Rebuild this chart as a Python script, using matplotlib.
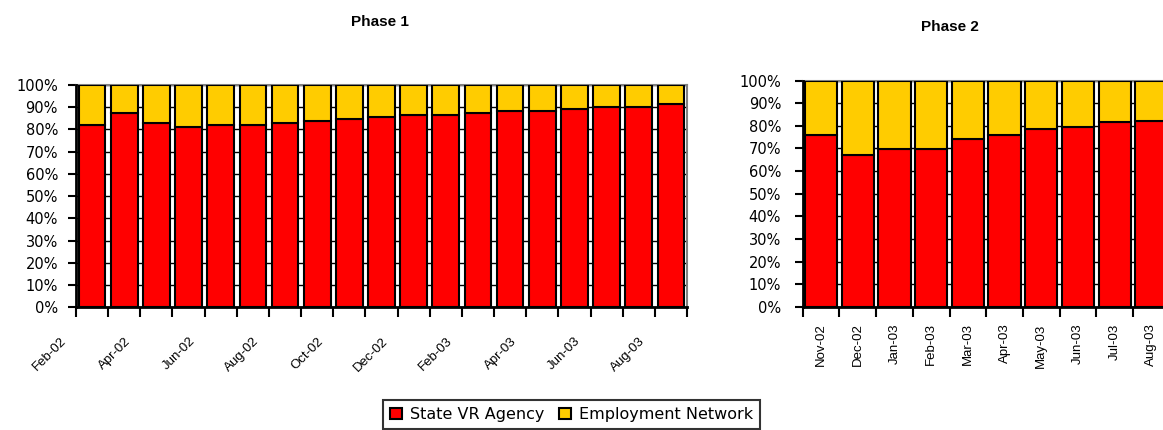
import matplotlib
matplotlib.use('Agg')
import matplotlib.pyplot as plt
import matplotlib.transforms as mtransforms
from matplotlib.patches import Patch
import numpy as np

plt.rcParams['font.family'] = ['DejaVu Sans']

# ---- data ----
phase1_months = ['Feb-02', 'Mar-02', 'Apr-02', 'May-02', 'Jun-02', 'Jul-02', 'Aug-02',
                 'Sep-02', 'Oct-02', 'Nov-02', 'Dec-02', 'Jan-03', 'Feb-03', 'Mar-03',
                 'Apr-03', 'May-03', 'Jun-03', 'Jul-03', 'Aug-03']
phase1_state_vr = [82.0, 87.4, 83.0, 81.1, 82.0, 82.0, 83.0, 83.9, 84.8, 85.6,
                   86.6, 86.6, 87.5, 88.4, 88.4, 89.3, 90.2, 90.2, 91.3]
phase1_en = [18.0, 12.6, 17.0, 18.9, 18.0, 18.0, 17.0, 16.1, 15.2, 14.4,
             13.4, 13.4, 12.5, 11.6, 11.6, 10.7, 9.8, 9.8, 8.7]

phase2_months = ['Nov-02', 'Dec-02', 'Jan-03', 'Feb-03', 'Mar-03', 'Apr-03',
                 'May-03', 'Jun-03', 'Jul-03', 'Aug-03']
phase2_state_vr = [76.0, 67.1, 69.8, 69.8, 74.2, 76.0, 78.6, 79.6, 81.6, 82.3]
phase2_en = [24.0, 32.9, 30.2, 30.2, 25.8, 24.0, 21.4, 20.4, 18.4, 17.7]

yticks = [0, 10, 20, 30, 40, 50, 60, 70, 80, 90, 100]
series_names = ['State VR Agency', 'Employment Network']

RED = '#FF0000'
YEL = '#FFCC00'

W, H = 1163, 430
fig = plt.figure(figsize=(W / 100, H / 100), dpi=100)


def style_axes(ax, n, ypad):
    ax.set_xlim(-0.5, n - 0.5)
    ax.set_ylim(0, 100)
    ax.set_yticks(yticks)
    ax.set_yticklabels([f'{v}%' for v in yticks], fontsize=10.5, family='DejaVu Sans')
    ax.yaxis.grid(True, color='black', linewidth=1.0, zorder=0)
    ax.set_axisbelow(True)
    for s in ['left', 'bottom']:
        ax.spines[s].set_color('black')
        ax.spines[s].set_linewidth(2.0)
        ax.spines[s].set_zorder(5)
    for s in ['top', 'right']:
        ax.spines[s].set_color('#808080')
        ax.spines[s].set_linewidth(1.5)
    ax.set_xticks(np.arange(-0.5, n, 1.0), minor=True)
    ax.tick_params(axis='x', which='minor', length=7, width=1.5, direction='out')
    ax.tick_params(axis='x', which='major', length=0)
    ax.tick_params(axis='y', length=6, width=1.5, direction='out', pad=ypad)


# ---- Phase 1 ----
ax1 = fig.add_axes([76 / W, 1 - 307.3 / H, 611 / W, 222.3 / H])
x1 = np.arange(len(phase1_months))
ax1.bar(x1, phase1_state_vr, width=0.83, color=RED, edgecolor='black', linewidth=1.5, zorder=3)
ax1.bar(x1, phase1_en, bottom=phase1_state_vr, width=0.83, color=YEL, edgecolor='black',
        linewidth=1.5, zorder=3)
style_axes(ax1, len(phase1_months), 7)
ax1.set_xticks(x1[::2])
ax1.set_xticklabels(phase1_months[::2], rotation=45, ha='right', va='top',
                    rotation_mode='anchor', fontsize=9.5, family='Liberation Sans')
ax1.tick_params(axis='x', which='major', pad=20)
off = mtransforms.ScaledTranslation(-0.32, 0, fig.dpi_scale_trans)
for lbl in ax1.get_xticklabels():
    lbl.set_transform(lbl.get_transform() + off)

# ---- Phase 2 ----
ax2 = fig.add_axes([802.7 / W, 1 - 306.7 / H, 367 / W, 226 / H])
x2 = np.arange(len(phase2_months))
ax2.bar(x2, phase2_state_vr, width=0.88, color=RED, edgecolor='black', linewidth=1.5, zorder=3)
ax2.bar(x2, phase2_en, bottom=phase2_state_vr, width=0.88, color=YEL, edgecolor='black',
        linewidth=1.5, zorder=3)
style_axes(ax2, len(phase2_months), 9.5)
ax2.set_xticks(x2)
ax2.set_xticklabels(phase2_months, rotation=90, ha='center', va='top', fontsize=9.5,
                    family='Liberation Sans')
ax2.tick_params(axis='x', which='major', pad=12)

# ---- titles ----
fig.text(380 / W, 1 - 22 / H, 'Phase 1', ha='center', va='center', fontsize=11,
         fontweight='bold', family='Liberation Sans')
fig.text(950 / W, 1 - 27 / H, 'Phase 2', ha='center', va='center', fontsize=11,
         fontweight='bold', family='Liberation Sans')

# ---- legend ----
handles = [Patch(facecolor=RED, edgecolor='black', linewidth=1.5),
           Patch(facecolor=YEL, edgecolor='black', linewidth=1.5)]
leg = fig.legend(handles, series_names, loc='center', bbox_to_anchor=(571.7 / W, 1 - 414.5 / H),
                 ncol=2, frameon=True, fancybox=False, edgecolor='black',
                 prop={'family': 'DejaVu Sans', 'size': 11.5},
                 handlelength=0.75, handleheight=0.75, handletextpad=0.5, columnspacing=0.9,
                 borderpad=0.45, borderaxespad=0)
leg.get_frame().set_linewidth(1.5)

fig.savefig('out.png', dpi=100)
